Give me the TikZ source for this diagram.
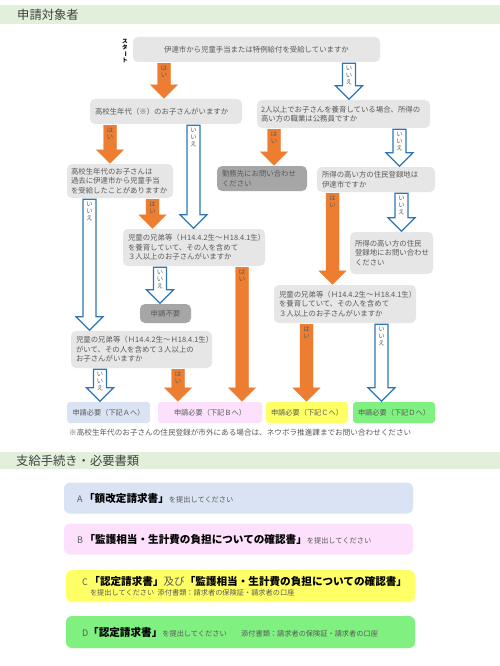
\documentclass[tikz,border=0pt]{standalone}
\usepackage{fontspec}
\setmainfont{Noto Sans CJK JP}
\usetikzlibrary{calc}
\definecolor{hdrgreen}{HTML}{E2EFDA}
\definecolor{hdrtxt}{HTML}{404040}
\definecolor{txt}{HTML}{595959}
\definecolor{qgray}{HTML}{E7E6E6}
\definecolor{dgray}{HTML}{A6A6A6}
\definecolor{orng}{HTML}{ED7D31}
\definecolor{blu}{HTML}{2E75B6}
\definecolor{rA}{HTML}{DAE3F3}
\definecolor{rB}{HTML}{FCE0FC}
\definecolor{rC}{HTML}{FFFF66}
\definecolor{rD}{HTML}{80F080}
\newcommand\qfont{\fontsize{7.4}{9.4}\selectfont}
\newcommand\labfont{\fontsize{6.3}{7}\selectfont}
\newcommand\bigb[1]{{\fontsize{10.6}{12}\selectfont\bfseries\color{black}#1}}
\newcommand\smt[1]{{\fontsize{7.2}{9}\selectfont #1}}
\newcommand\letr[1]{{\fontsize{9}{11}\selectfont #1}}
\newcommand\barrow[5]{%
  \path (#2,0 |- #3.south) coordinate (bt) (#2,0 |- #4.north) coordinate (bb);
  \draw[#1] ($(bt)+(-6.5,1)$) -- ($(bb)+(-6.5,-14)$) -- ($(bb)+(-13.5,-14)$) -- ($(bb)+(0,-0.5)$)
     -- ($(bb)+(13.5,-14)$) -- ($(bb)+(6.5,-14)$) -- ($(bt)+(6.5,1)$) -- cycle;
  \node[lab, anchor=north] at ($(bt)+(0,3.5)$) {#5};
}
\begin{document}
\begin{tikzpicture}[x=1pt,y=-1pt,
  qbox/.style={fill=qgray, rounded corners=5pt, inner xsep=5pt, inner ysep=2pt, font=\qfont, text=txt, align=left},
  dbox/.style={qbox, fill=dgray},
  rbox/.style={rounded corners=3pt, inner sep=1pt, font=\fontsize{7.2}{9}\selectfont, text=txt, align=center, minimum height=21pt},
  lbox/.style={rounded corners=6pt, inner xsep=13pt, inner ysep=2pt, text=txt, align=left, minimum width=349pt, text width=323pt, minimum height=31pt},
  obar/.style={fill=orng, draw=orng, line width=0.3pt},
  bbar/.style={fill=white, draw=blu, line width=1.2pt, line join=miter},
  lab/.style={font=\labfont, text=txt, align=center, inner sep=0pt},
  hdr/.style={anchor=west, font=\fontsize{12.3}{14}\selectfont, text=hdrtxt, inner sep=0pt}]
\useasboundingbox (0,0) rectangle (500,666);
\fill[white] (0,0) rectangle (500,666);
% headers
\fill[hdrgreen] (0,5) rectangle (500,24.5);
\node[hdr] (h1) at (17,14.5) {申請対象者};
\fill[hdrgreen] (0,452) rectangle (500,469);
\node[hdr] (h2) at (16,460.5) {支給手続き・必要書類};
% start label
\node[font=\fontsize{5.6}{5.9}\selectfont\bfseries, text=black, align=center, inner sep=0pt] (st) at (125,51) {ス\\タ\\\rotatebox[origin=c]{-90}{ー}\\ト};
% question boxes
\node[qbox, align=center, minimum width=247pt, minimum height=25pt] (start) at (256.5,49.5) {伊達市から児童手当または特例給付を受給していますか};
\node[qbox, minimum width=152pt, minimum height=25pt, text width=142pt] (q2) at (166,111.5) {高校生年代（※）のお子さんがいますか};
\node[qbox, inner xsep=4pt, minimum width=173pt, minimum height=28pt, text width=165pt] (q3) at (343.5,114) {2人以上でお子さんを養育している場合、所得の\\高い方の職業は公務員ですか};
\node[dbox, minimum width=90pt, minimum height=25pt, text width=80pt] (kinmu) at (262,178.5) {勤務先にお問い合わせ\\ください};
\node[qbox, inner xsep=4pt, minimum width=106pt, minimum height=34pt, text width=98pt] (q4) at (120,181) {高校生年代のお子さんは\\過去に伊達市から児童手当\\を受給したことがありますか};
\node[qbox, minimum width=118pt, minimum height=25pt, text width=108pt] (q6) at (376,179.5) {所得の高い方の住民登録地は\\伊達市ですか};
\node[qbox, minimum width=142pt, minimum height=37pt, text width=132pt] (q5) at (194,247.5) {児童の兄弟等（Ｈ14.4.2生～Ｈ18.4.1生）\\を養育していて、その人を含めて\\３人以上のお子さんがいますか};
\node[qbox, minimum width=83pt, minimum height=42pt, text width=73pt] (q9) at (391.5,253) {所得の高い方の住民\\登録地にお問い合わせ\\ください};
\node[dbox, align=center, minimum width=51pt, minimum height=19pt] (fuyo) at (165.5,313.5) {申請不要};
\node[qbox, minimum width=142pt, minimum height=38pt, text width=132pt] (q8) at (345,304) {児童の兄弟等（Ｈ14.4.2生～Ｈ18.4.1生）\\を養育していて、その人を含めて\\３人以上のお子さんがいますか};
\node[qbox, minimum width=141pt, minimum height=37pt, text width=131pt] (q7) at (141.5,349.5) {児童の兄弟等（Ｈ14.4.2生～Ｈ18.4.1生）\\がいて、その人を含めて３人以上の\\お子さんがいますか};
% result boxes
\node[rbox, fill=rA, minimum width=83pt] (ra) at (108.5,412.5) {申請必要（下記Ａへ）};
\node[rbox, fill=rB, minimum width=104pt] (rb) at (210,412.5) {申請必要（下記Ｂへ）};
\node[rbox, fill=rC, minimum width=82pt] (rc) at (307,412.5) {申請必要（下記Ｃへ）};
\node[rbox, fill=rD, minimum width=82pt] (rd) at (394,412.5) {申請必要（下記Ｄへ）};
\node[anchor=west, inner sep=0pt, font=\fontsize{7.6}{9}\selectfont, text=txt] (note) at (69,432.5) {※高校生年代のお子さんの住民登録が市外にある場合は、ネウボラ推進課までお問い合わせください};
% arrows
\barrow{obar}{164}{start}{q2}{は\\い}
\barrow{bbar}{349}{start}{q3}{い\\い\\え}
\barrow{obar}{110}{q2}{q4}{は\\い}
\barrow{bbar}{193.5}{q2}{q5}{い\\い\\え}
\barrow{obar}{274}{q3}{kinmu}{は\\い}
\barrow{bbar}{399.5}{q3}{q6}{い\\い\\え}
\barrow{bbar}{89.5}{q4}{q7}{い\\い\\え}
\barrow{obar}{152.5}{q4}{q5}{は\\い}
\barrow{bbar}{160}{q5}{fuyo}{い\\い\\え}
\barrow{obar}{242}{q5}{rb}{は\\い}
\barrow{obar}{332.5}{q6}{q8}{は\\い}
\barrow{bbar}{401.5}{q6}{q9}{い\\い\\え}
\barrow{bbar}{100}{q7}{ra}{い\\い\\え}
\barrow{obar}{178}{q7}{rb}{は\\い}
\barrow{obar}{306.5}{q8}{rc}{は\\い}
\barrow{bbar}{381.5}{q8}{rd}{い\\い\\え}
% procedure boxes
\node[lbox, fill=rA] (pa) at (238.5,498) {\letr{A}\,\bigb{「額改定請求書」}\smt{を提出してください}};
\node[lbox, fill=rB] (pb) at (238.5,539) {\letr{B}\,\bigb{「監護相当・生計費の負担についての確認書」}\smt{を提出してください}};
\node[lbox, fill=rC, inner xsep=15pt, text width=317pt, minimum height=32pt] (pc) at (240.5,586) {\letr{C}\,\bigb{「認定請求書」}{\fontsize{10.6}{12}\selectfont 及び}\bigb{「監護相当・生計費の負担についての確認書」}\\[-2pt]\hspace*{8pt}\smt{を提出してください\ 添付書類：請求者の保険証・請求者の口座}};
\node[lbox, fill=rD, inner xsep=15pt, text width=317pt, minimum height=32pt] (pd) at (240.5,632) {\letr{D}\bigb{「認定請求書」}\smt{を提出してください　　添付書類：請求者の保険証・請求者の口座}};
\end{tikzpicture}
\end{document}
